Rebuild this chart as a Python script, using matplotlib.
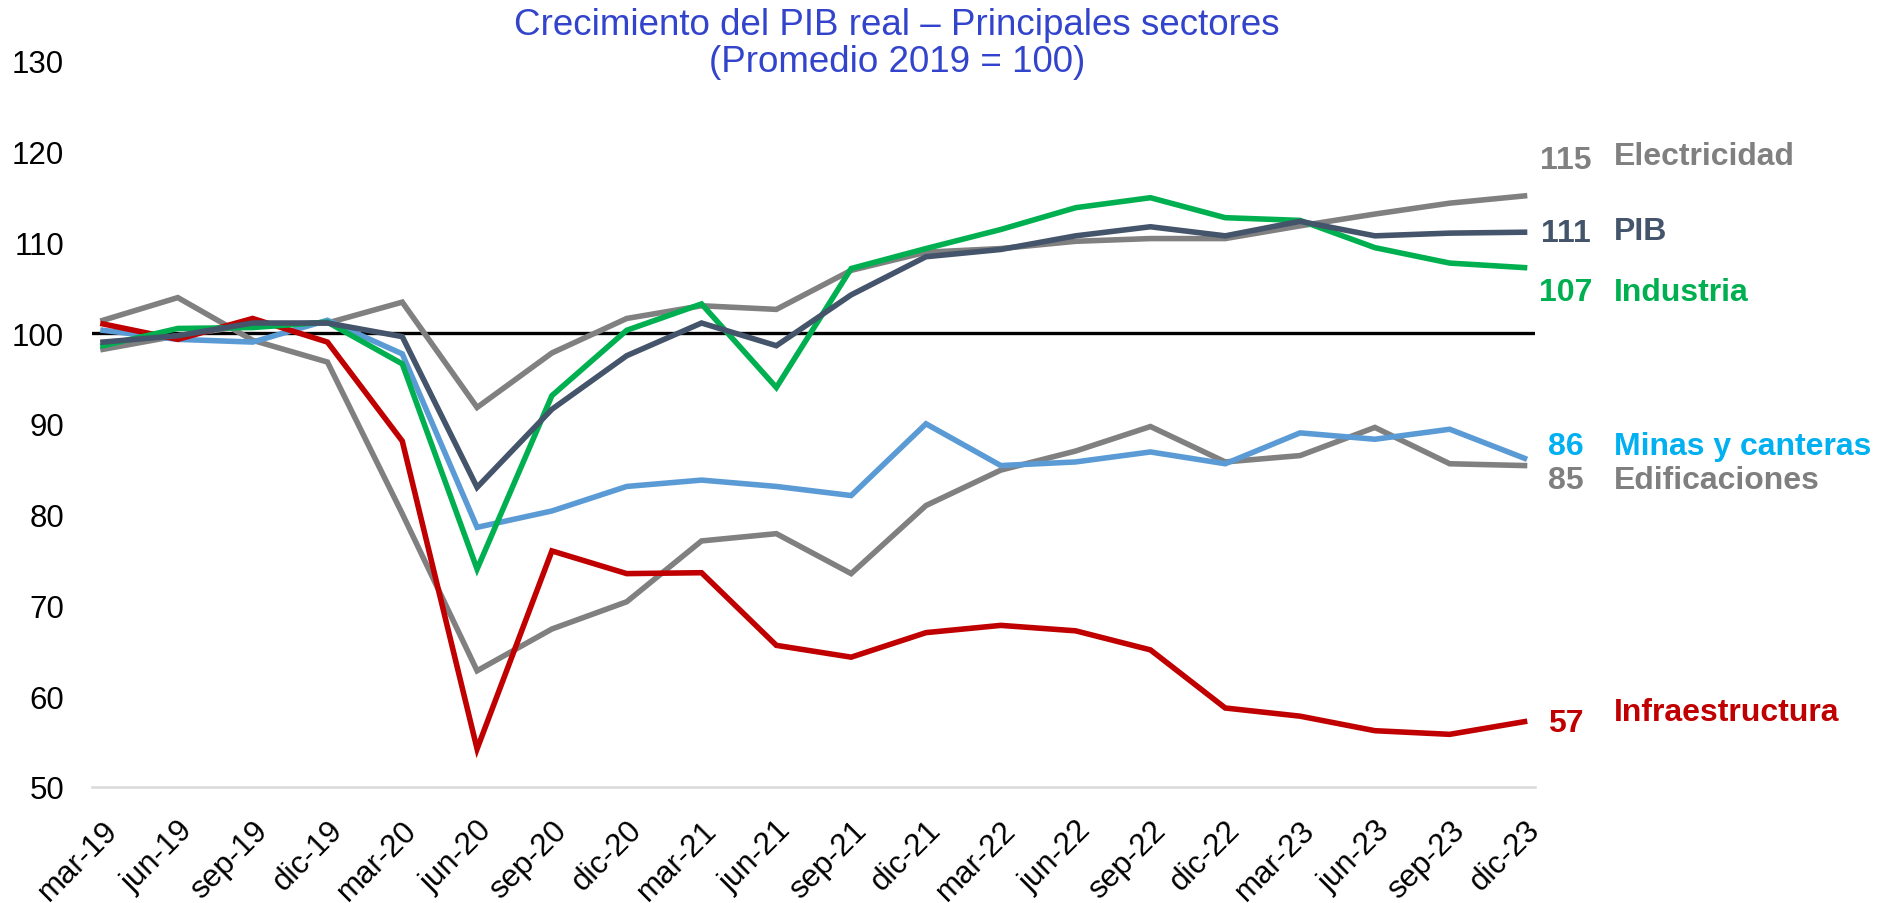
import matplotlib
matplotlib.use("Agg")
import matplotlib.pyplot as plt

plt.rcParams['font.family'] = ['Liberation Sans', 'DejaVu Sans']

quarters = ["mar-19", "jun-19", "sep-19", "dic-19", "mar-20", "jun-20", "sep-20", "dic-20",
            "mar-21", "jun-21", "sep-21", "dic-21", "mar-22", "jun-22", "sep-22", "dic-22",
            "mar-23", "jun-23", "sep-23", "dic-23"]

electricidad = [98.2, 99.7, 100.9, 101.1, 103.4, 91.8, 97.8, 101.6,
                103.0, 102.6, 106.9, 108.9, 109.3, 110.1, 110.4, 110.4,
                111.8, 113.1, 114.3, 115.1]
pib = [99.0, 99.7, 101.1, 101.1, 99.6, 83.0, 91.6, 97.5,
       101.1, 98.6, 104.2, 108.4, 109.2, 110.7, 111.7, 110.7,
       112.3, 110.7, 111.0, 111.1]
industria = [98.6, 100.5, 100.6, 101.2, 96.6, 74.0, 93.1, 100.3,
             103.2, 94.0, 107.1, 109.3, 111.4, 113.8, 114.9, 112.7,
             112.4, 109.4, 107.7, 107.2]
minas = [100.3, 99.3, 99.0, 101.4, 97.7, 78.6, 80.4, 83.1,
         83.8, 83.1, 82.1, 90.0, 85.4, 85.8, 86.9, 85.6,
         89.0, 88.3, 89.4, 86.2]
edificaciones = [101.4, 103.9, 99.2, 96.8, 80.1, 62.8, 67.4, 70.4,
                 77.1, 77.9, 73.5, 81.0, 84.9, 87.0, 89.7, 85.8,
                 86.5, 89.6, 85.6, 85.4]
infraestructura = [101.0, 99.3, 101.6, 99.0, 88.1, 54.2, 76.0, 73.5,
                   73.6, 65.6, 64.3, 67.0, 67.8, 67.2, 65.1, 58.7,
                   57.8, 56.2, 55.8, 57.2]

yticks = [50, 60, 70, 80, 90, 100, 110, 120, 130]
title_text = "Crecimiento del PIB real – Principales sectores\n(Promedio 2019 = 100)"

series = [
    ("Electricidad", electricidad, "#808080", "#808080", "115"),
    ("Edificaciones", edificaciones, "#808080", "#7F7F7F", "85"),
    ("Minas y canteras", minas, "#5B9BD5", "#00B0F0", "86"),
    ("Infraestructura", infraestructura, "#C00000", "#C00000", "57"),
    ("Industria", industria, "#00B050", "#00B050", "107"),
    ("PIB", pib, "#44546A", "#44546A", "111"),
]

fig = plt.figure(figsize=(18.88, 9.04), dpi=100)
ax = fig.add_axes([92 / 1888, 1 - 788 / 904, (1535 - 92) / 1888, (788 - 61.6) / 904])

x = list(range(len(quarters)))
ax.axhline(100, color="black", lw=2.4, zorder=1)
for name, vals, lc, tc, lab in series:
    ax.plot(x, vals, color=lc, lw=4.0, solid_joinstyle="miter", zorder=2)

ax.set_xlim(-0.147, 19.14)
ax.set_ylim(50, 130)
ax.set_yticks(yticks)
ax.set_yticklabels([str(v) for v in yticks], fontsize=22.5)
ax.set_xticks(x)
ax.set_xticklabels(quarters, fontsize=22.5)
for t in ax.get_xticklabels():
    t.set_rotation(45)
    t.set_ha("right")
    t.set_va("top")
    t.set_rotation_mode("anchor")
ax.tick_params(axis="both", length=0)
ax.tick_params(axis="y", pad=20)
ax.tick_params(axis="x", pad=20)
for s in ["top", "right", "left"]:
    ax.spines[s].set_visible(False)
ax.spines["bottom"].set_color("#D9D9D9")
ax.spines["bottom"].set_linewidth(1.8)

# right-side labels (value + name), positioned in figure pixels
label_pos = {
    "Electricidad": (161, 157),
    "PIB": (234, 232),
    "Industria": (293, 293),
    "Minas y canteras": (447, 447),
    "Edificaciones": (481, 481),
    "Infraestructura": (724, 713),
}
for name, vals, lc, tc, lab in series:
    ynum, yname = label_pos[name]
    fig.text(1566 / 1888, 1 - ynum / 904, lab, color=tc, fontsize=23, fontweight="bold",
             ha="center", va="center")
    fig.text(1614 / 1888, 1 - yname / 904, name, color=tc, fontsize=23, fontweight="bold",
             ha="left", va="center")

fig.text(897 / 1888, 1 - 44 / 904, title_text, color="#3344CC", fontsize=26.5,
         ha="center", va="center", linespacing=1.05)

fig.savefig("out.png", dpi=100)
